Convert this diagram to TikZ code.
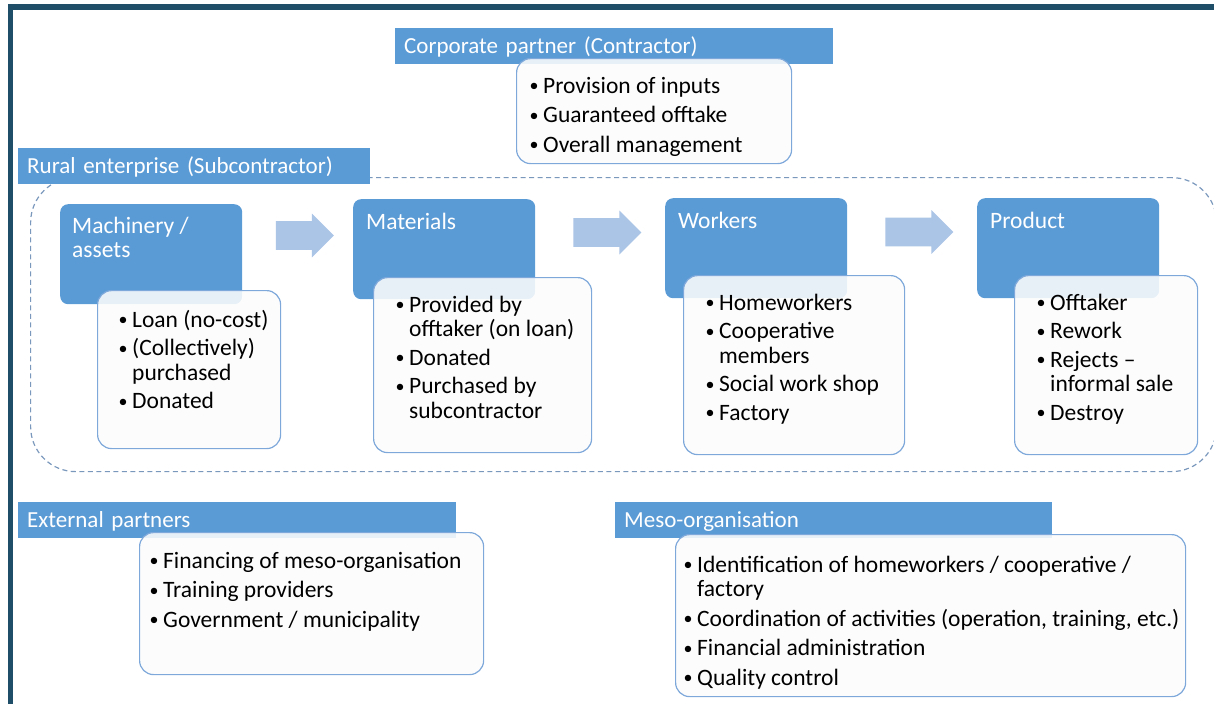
\documentclass[tikz,border=0pt]{standalone}
\usepackage{fontspec}
\setmainfont{Carlito}
\usepackage{xcolor}
\usepackage{tikz}
\usetikzlibrary{shapes.arrows}
\usetikzlibrary{calc}

\definecolor{framecol}{RGB}{31,78,104}
\definecolor{hdrblue}{RGB}{91,155,213}
\definecolor{listedge}{RGB}{126,168,218}
\definecolor{flowblue}{RGB}{171,197,230}
\definecolor{dashcol}{RGB}{122,152,188}

% bullet list, one row per printed line
\newcommand{\blist}[1]{\begin{tabular}[t]{@{}p{15pt}@{}l@{}}#1\end{tabular}}
\newcommand{\bl}{\hspace{1.5pt}\raisebox{1.2pt}{\fontsize{18}{18}\selectfont\textbullet} &}

\tikzset{
    txt/.style = {font = \fontsize{23.5}{24.5}\selectfont, inner sep = 0pt},
    hdr/.style = {font = \fontsize{23}{24.5}\selectfont, fill = hdrblue,
        text = white, anchor = north west, minimum height = 36pt,
        inner xsep = 9pt, inner ysep = 0pt, text height = 18pt,
        text depth = 3pt, align = left},
    stage/.style = {fill = hdrblue, rounded corners = 8pt, anchor = north west,
        minimum width = 182pt, minimum height = 100pt},
    stagetxt/.style = {txt, text = white, anchor = base west},
    itembox/.style = {draw = listedge, line width = 1.2pt, fill = white!98!gray,
        fill opacity = 0.88, text opacity = 1, rounded corners = 14pt,
        anchor = north west},
    itemtxt/.style = {txt, anchor = base west},
    flow/.style = {single arrow, fill = flowblue, minimum height = 68pt,
        minimum width = 44pt, inner sep = 13pt},
    zone/.style = {draw = dashcol, line width = 1.2pt,
        dash pattern = on 5pt off 3.5pt, rounded corners = 45pt,
        anchor = north west}
}

\begin{document}
\begin{tikzpicture}[x = 1pt, y = -1pt]
    \useasboundingbox (0, 0) rectangle (1214, 704);

    % frame
    \fill[framecol] (8, 4) rectangle (1214, 10);
    \fill[framecol] (8, 4) rectangle (13, 704);

    % dashed group round the four stages
    \node[zone, minimum width = 1186pt, minimum height = 294pt] (zone) at (30, 177) {};

    % header bars
    \node[hdr, text width = 420pt] (corp) at (395, 28) {Corporate partner (Contractor)};
    \node[hdr, text width = 334pt] (rural) at (18, 148) {Rural enterprise (Subcontractor)};
    \node[hdr, text width = 420pt] (ext) at (18, 502) {External partners};
    \node[hdr, text width = 419pt] (meso) at (615, 502) {Meso-organisation};

    % stages
    \node[stage] (mach) at (60, 204) {};
    \node[stage] (mat) at (353, 199) {};
    \node[stage] (work) at (665, 198) {};
    \node[stage] (prod) at (977, 198) {};

    \node[stagetxt] (machtxt) at ($(mach.north west) + (12, 29)$)
        {\begin{tabular}[t]{@{}l@{}}Machinery /\\assets\end{tabular}};
    \node[stagetxt] (mattxt) at ($(mat.north west) + (13, 30)$) {Materials};
    \node[stagetxt] (worktxt) at ($(work.north west) + (13, 30)$) {Workers};
    \node[stagetxt] (prodtxt) at ($(prod.north west) + (13, 30)$) {Product};

    % arrows between stages
    \node[flow, minimum height = 58pt] (arr1) at ($(mach.north east)!.5!(mat.north west) + (0, 34)$) {};
    \node[flow] (arr2) at ($(mat.north east)!.5!(work.north west) + (0, 34)$) {};
    \node[flow] (arr3) at ($(work.north east)!.5!(prod.north west) + (0, 34)$) {};

    % item boxes
    \node[itembox, minimum width = 275pt, minimum height = 105pt] (corplist) at (516, 58) {};
    \node[itembox, minimum width = 183pt, minimum height = 158pt] (machlist) at (97, 290) {};
    \node[itembox, minimum width = 218pt, minimum height = 175pt] (matlist) at (373, 277) {};
    \node[itembox, minimum width = 221pt, minimum height = 179pt] (worklist) at (683, 275) {};
    \node[itembox, minimum width = 183pt, minimum height = 179pt] (prodlist) at (1014, 275) {};
    \node[itembox, minimum width = 344pt, minimum height = 142pt] (extlist) at (139, 532) {};
    \node[itembox, minimum width = 510pt, minimum height = 162pt] (mesolist) at (675, 534) {};

    \node[itemtxt] (corpitems) at ($(corplist.north west) + (12, 35)$) {\blist{
        \bl Provision of inputs\\[5pt]
        \bl Guaranteed offtake\\[5pt]
        \bl Overall management}};
    \node[itemtxt] (machitems) at ($(machlist.north west) + (20, 37)$) {\blist{
        \bl Loan (no-cost)\\[4pt]
        \bl (Collectively)\\
            & purchased\\[4pt]
        \bl Donated}};
    \node[itemtxt] (matitems) at ($(matlist.north west) + (21, 35)$) {\blist{
        \bl Provided by\\
            & offtaker (on loan)\\[4pt]
        \bl Donated\\[4pt]
        \bl Purchased by\\
            & subcontractor}};
    \node[itemtxt] (workitems) at ($(worklist.north west) + (21, 35)$) {\blist{
        \bl Homeworkers\\[4pt]
        \bl Cooperative\\
            & members\\[4pt]
        \bl Social work shop\\[4pt]
        \bl Factory}};
    \node[itemtxt] (proditems) at ($(prodlist.north west) + (21, 35)$) {\blist{
        \bl Offtaker\\[4pt]
        \bl Rework\\[4pt]
        \bl Rejects --\\
            & informal sale\\[4pt]
        \bl Destroy}};
    \node[itemtxt] (extitems) at ($(extlist.north west) + (9, 36)$) {\blist{
        \bl Financing of meso-organisation\\[5pt]
        \bl Training providers\\[5pt]
        \bl Government / municipality}};
    \node[itemtxt] (mesoitems) at ($(mesolist.north west) + (7, 38)$) {\blist{
        \bl Identification of homeworkers / cooperative /\\
            & factory\\[5pt]
        \bl Coordination of activities (operation, training, etc.)\\[5pt]
        \bl Financial administration\\[5pt]
        \bl Quality control}};
\end{tikzpicture}
\end{document}
